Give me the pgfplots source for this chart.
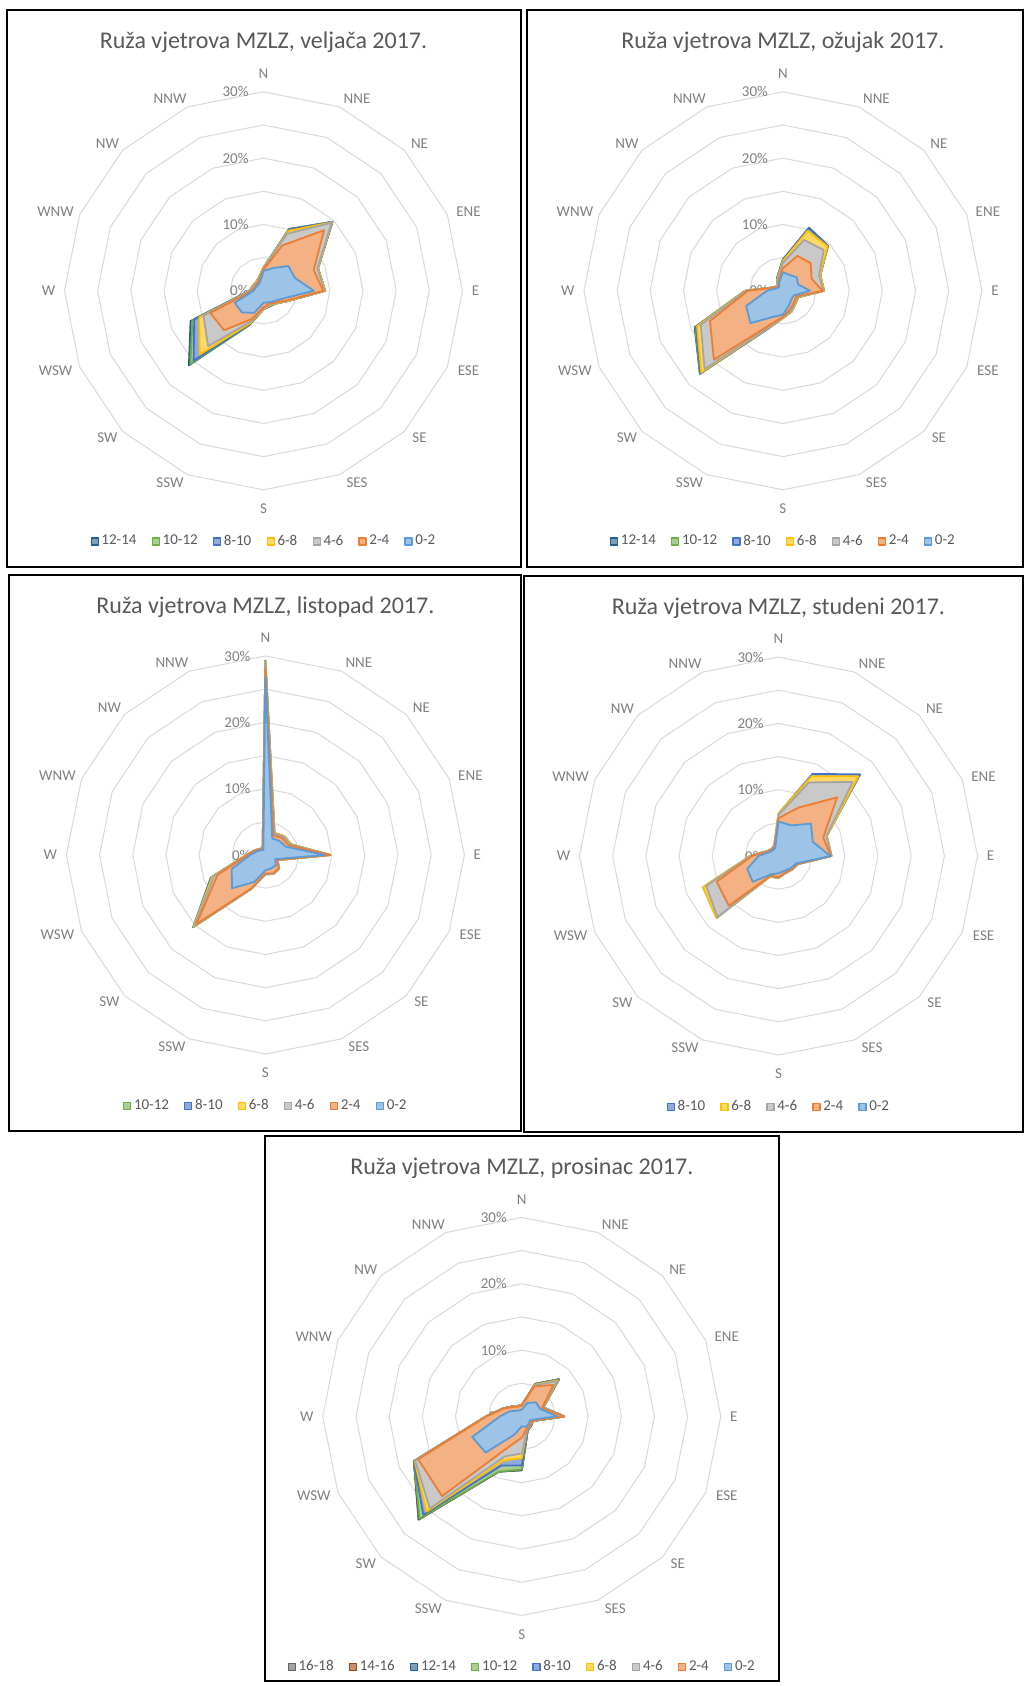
\documentclass[border=0pt]{standalone}
\usepackage{fontspec}
\setmainfont{Carlito}
\usepackage{pgfplots}
\usepackage{pgfplotstable}
\pgfplotsset{compat=1.18}
\usepgfplotslibrary{polar}

% Office palette: line colours, fills are lighter tints
\definecolor{cA}{HTML}{5B9BD5}% 0-2
\definecolor{cB}{HTML}{ED7D31}% 2-4
\definecolor{cC}{HTML}{A5A5A5}% 4-6
\definecolor{cD}{HTML}{FFC000}% 6-8
\definecolor{cE}{HTML}{4472C4}% 8-10
\definecolor{cF}{HTML}{70AD47}% 10-12
\definecolor{cG}{HTML}{255E91}% 12-14
\definecolor{cH}{HTML}{9E480E}% 14-16
\definecolor{cI}{HTML}{636363}% 16-18
\definecolor{txtdark}{HTML}{595959}
\definecolor{txtlight}{HTML}{808080}
\definecolor{gridc}{HTML}{D9D9D9}

% polygonal rings of the radial grid (every 5 %)
\pgfplotstableread{
a      g5 g10 g15 g20 g25 g30
90     5  10  15  20  25  30
67.5   5  10  15  20  25  30
45     5  10  15  20  25  30
22.5   5  10  15  20  25  30
0      5  10  15  20  25  30
-22.5  5  10  15  20  25  30
-45    5  10  15  20  25  30
-67.5  5  10  15  20  25  30
-90    5  10  15  20  25  30
-112.5 5  10  15  20  25  30
-135   5  10  15  20  25  30
-157.5 5  10  15  20  25  30
-180   5  10  15  20  25  30
-202.5 5  10  15  20  25  30
-225   5  10  15  20  25  30
-247.5 5  10  15  20  25  30
-270   5  10  15  20  25  30
}\gridtab

% cumulative frequency (%) per direction, N first, clockwise; N repeated to close
% veljaca 2017
\pgfplotstableread{
a      s0   s2   s4   s6   s8   s10  s12
90     3.0  3.2  3.4  3.5  3.5  3.5  3.5
67.5   3.7  7.4  9.3  9.8  10.0 10.0 10.1
45     5.3  12.9 14.5 14.6 14.7 14.7 14.7
22.5   5.1  8.2  8.8  8.9  8.9  8.9  8.9
0      7.6  9.0  9.2  9.3  9.3  9.3  9.3
-22.5  3.1  3.8  3.9  4.0  4.0  4.0  4.0
-45    2.2  2.5  2.6  2.7  2.7  2.7  2.7
-67.5  1.9  2.1  2.3  2.4  2.5  2.5  2.5
-90    1.8  2.5  2.7  2.8  2.8  2.8  2.8
-112.5 3.6  4.6  5.0  5.3  5.5  5.6  5.6
-135   4.6  8.4  11.8 13.6 14.9 15.6 15.9
-157.5 4.7  8.7  9.8  10.5 11.3 11.6 11.9
-180   1.5  1.7  1.9  2.0  2.1  2.1  2.1
-202.5 1.3  1.5  1.7  1.8  1.8  1.8  1.8
-225   1.2  1.4  1.6  1.7  1.7  1.7  1.7
-247.5 1.4  1.7  1.9  2.0  2.0  2.0  2.0
-270   3.0  3.2  3.4  3.5  3.5  3.5  3.5
}\tabFeb

% ozujak 2017
\pgfplotstableread{
a      s0   s2   s4   s6   s8   s10  s12
90     2.8  3.4  4.2  4.5  4.7  4.7  4.7
67.5   2.6  5.7  8.3  9.8  10.2 10.2 10.3
45     2.9  5.9  8.7  9.5  9.6  9.6  9.6
22.5   2.5  4.7  5.9  6.1  6.1  6.1  6.1
0      4.1  6.0  6.1  6.2  6.2  6.2  6.2
-22.5  1.8  2.2  2.4  2.5  2.5  2.5  2.5
-45    1.8  2.4  2.6  2.7  2.7  2.7  2.7
-67.5  2.4  3.0  3.3  3.4  3.4  3.4  3.4
-90    3.6  3.9  4.0  4.1  4.1  4.1  4.1
-112.5 4.3  5.7  6.1  6.2  6.3  6.3  6.3
-135   6.9  14.7 16.7 17.4 17.6 17.7 17.7
-157.5 6.0  11.9 13.4 14.0 14.2 14.3 14.4
-180   2.4  5.3  5.6  5.7  5.7  5.7  5.7
-202.5 1.0  1.3  1.4  1.4  1.4  1.4  1.4
-225   0.8  1.0  1.1  1.1  1.1  1.1  1.1
-247.5 1.4  1.7  2.0  2.1  2.2  2.2  2.2
-270   2.8  3.4  4.2  4.5  4.7  4.7  4.7
}\tabMar

% listopad 2017
\pgfplotstableread{
a      s0   s2   s4   s6   s8   s10
90     26.9 28.3 29.0 29.2 29.3 29.4
67.5   2.7  3.2  3.5  3.6  3.6  3.6
45     3.0  3.6  3.9  4.0  4.0  4.0
22.5   3.3  3.8  4.1  4.2  4.2  4.2
0      9.0  9.8  9.8  9.8  9.8  9.8
-22.5  1.6  1.9  2.0  2.0  2.0  2.0
-45    2.2  2.8  2.9  2.9  2.9  2.9
-67.5  2.2  3.0  3.1  3.1  3.1  3.1
-90    2.3  2.8  2.9  2.9  2.9  2.9
-112.5 4.4  5.4  5.5  5.5  5.5  5.5
-135   7.1  14.7 15.1 15.3 15.4 15.4
-157.5 5.5  7.8  8.4  8.7  8.9  8.9
-180   2.3  2.7  2.8  2.9  2.9  2.9
-202.5 1.4  1.7  1.8  1.8  1.8  1.8
-225   1.0  1.2  1.3  1.3  1.3  1.3
-247.5 0.8  1.0  1.1  1.1  1.1  1.1
-270   26.9 28.3 29.0 29.2 29.3 29.4
}\tabOct

% studeni 2017
\pgfplotstableread{
a      s0   s2   s4   s6   s8
90     5.2  5.7  6.2  6.4  6.4
67.5   5.0  7.9  12.0 13.0 13.4
45     6.9  12.5 15.8 17.0 17.4
22.5   5.6  7.3  7.8  7.9  7.9
0      7.8  7.9  8.0  8.0  8.0
-22.5  2.9  3.1  3.2  3.2  3.2
-45    2.6  2.8  2.9  2.9  2.9
-67.5  2.4  2.7  2.8  2.8  2.8
-90    2.6  3.2  3.3  3.3  3.3
-112.5 3.0  3.2  3.3  3.4  3.4
-135   5.5  10.6 13.0 13.2 13.2
-157.5 5.1  10.1 11.8 12.3 12.3
-180   3.0  4.0  4.2  4.3  4.3
-202.5 1.5  1.8  1.9  1.9  1.9
-225   1.2  1.4  1.5  1.5  1.5
-247.5 1.3  1.6  1.7  1.7  1.7
-270   5.2  5.7  6.2  6.4  6.4
}\tabNov

% prosinac 2017
\pgfplotstableread{
a      s0   s2   s4   s6   s8   s10  s12  s14  s16
90     1.0  1.6  1.7  1.7  1.7  1.7  1.7  1.7  1.7
67.5   2.2  4.9  5.1  5.2  5.3  5.3  5.3  5.3  5.3
45     3.0  6.7  7.5  7.7  7.8  7.9  7.9  7.9  7.9
22.5   3.0  3.3  3.5  3.5  3.5  3.5  3.5  3.5  3.5
0      5.3  6.3  6.4  6.4  6.4  6.4  6.4  6.4  6.4
-22.5  1.4  1.7  1.8  1.8  1.8  1.8  1.8  1.8  1.8
-45    1.5  1.8  1.9  1.9  2.0  2.0  2.0  2.0  2.0
-67.5  1.7  2.0  2.1  2.1  2.2  2.3  2.3  2.3  2.3
-90    1.5  3.2  5.6  6.3  7.4  8.0  8.1  8.1  8.1
-112.5 3.0  4.9  6.5  7.2  8.0  9.0  9.0  9.0  9.0
-135   7.7  17.0 19.6 20.3 21.0 21.8 21.9 22.0 22.0
-157.5 8.1  16.9 17.4 17.5 17.6 17.6 17.6 17.6 17.6
-180   3.3  5.3  5.4  5.4  5.4  5.4  5.4  5.4  5.4
-202.5 2.0  3.0  3.1  3.1  3.1  3.1  3.1  3.1  3.1
-225   1.2  2.0  2.1  2.1  2.1  2.1  2.1  2.1  2.1
-247.5 1.0  1.6  1.7  1.7  1.7  1.7  1.7  1.7  1.7
-270   1.0  1.6  1.7  1.7  1.7  1.7  1.7  1.7  1.7
}\tabDec

\pgfplotsset{
  rose/.style={
    hide axis, scale only axis, width=199pt, height=199pt,
    xmin=0, xmax=360, ymin=0, ymax=30, clip=false, anchor=center,
    title style={at={(0.5,1.130)}, anchor=center, yshift=-15.7pt,
      font=\fontsize{12}{14}\selectfont, text=txtdark},
    legend style={at={(0.5,-0.130)}, anchor=center, draw=none, fill=none,
      legend columns=-1, font=\fontsize{7.5}{9}\selectfont, text=txtdark,
      nodes={inner sep=0.6pt},
      /tikz/every even column/.append style={column sep=7pt},
      /tikz/every odd column/.append style={column sep=0.8pt}},
    legend image code/.code={\draw[##1, line width=0.6pt] (0pt,-1.75pt) rectangle (3.5pt,1.75pt);},
  },
  ring/.style={draw=gridc, line width=0.5pt, forget plot, no marks, fill=none},
  ser/.style={draw=#1, fill=#1!60!white, line width=0.9pt, line join=round, no marks},
}

\newcommand\rosegrid{%
  \addplot[ring] table[x=a,y=g5]{\gridtab};
  \addplot[ring] table[x=a,y=g10]{\gridtab};
  \addplot[ring] table[x=a,y=g15]{\gridtab};
  \addplot[ring] table[x=a,y=g20]{\gridtab};
  \addplot[ring] table[x=a,y=g25]{\gridtab};
  \addplot[ring] table[x=a,y=g30]{\gridtab};
  \node[anchor=east, xshift=-7.3pt, text=txtlight, font=\fontsize{7.5}{9}\selectfont, inner sep=0pt] at (axis cs:90,0) {0\%};
  \node[anchor=east, xshift=-7.3pt, text=txtlight, font=\fontsize{7.5}{9}\selectfont, inner sep=0pt] at (axis cs:90,10) {10\%};
  \node[anchor=east, xshift=-7.3pt, text=txtlight, font=\fontsize{7.5}{9}\selectfont, inner sep=0pt] at (axis cs:90,20) {20\%};
  \node[anchor=east, xshift=-7.3pt, text=txtlight, font=\fontsize{7.5}{9}\selectfont, inner sep=0pt] at (axis cs:90,30) {30\%};
}

% compass labels around a centre given in pixels (0.5pt each, y downwards)
\newcommand\compass[2]{%
  \foreach \t/\dx/\dy in {N/0/-217, NNE/93.5/-192, NE/156/-147, ENE/205/-79.5,
      E/212/0, ESE/205/79.5, SE/156/147, SES/93.5/192, S/0/218, SSW/-93.5/192,
      SW/-156/147, WSW/-208/79.5, W/-215/0, WNW/-208/-79.5, NW/-156/-147, NNW/-93.5/-192}
    \node[text=txtlight, font=\fontsize{7.5}{9}\selectfont, inner sep=0pt]
      at ({(#1+\dx)*0.5pt},{-(#2+\dy)*0.5pt}) {\t};
}
\newcommand\frameat[4]{%
  \draw[black, line width=1pt] ({#1*0.5pt},{-#2*0.5pt}) rectangle ({#3*0.5pt},{-#4*0.5pt});
}

\begin{document}
\begin{tikzpicture}
\useasboundingbox (0,0) rectangle (512pt,-843pt);
\fill[white] (0,0) rectangle (512pt,-843pt);

\frameat{6.5}{10.5}{520.6}{567}
\frameat{526.8}{10.5}{1022.5}{567}
\frameat{8.6}{575}{520.6}{1131}
\frameat{523.8}{576}{1022.5}{1132}
\frameat{265}{1136}{778.7}{1681}

% ---- veljaca
\begin{polaraxis}[rose, at={(131.75pt,-145.4pt)}, title={Ruža vjetrova MZLZ, veljača 2017.}]
\rosegrid
\addplot[ser=cG] table[x=a,y=s12]{\tabFeb}; \addlegendentry{12-14}
\addplot[ser=cF] table[x=a,y=s10]{\tabFeb}; \addlegendentry{10-12}
\addplot[ser=cE] table[x=a,y=s8]{\tabFeb};  \addlegendentry{8-10}
\addplot[ser=cD] table[x=a,y=s6]{\tabFeb};  \addlegendentry{6-8}
\addplot[ser=cC] table[x=a,y=s4]{\tabFeb};  \addlegendentry{4-6}
\addplot[ser=cB] table[x=a,y=s2]{\tabFeb};  \addlegendentry{2-4}
\addplot[ser=cA] table[x=a,y=s0]{\tabFeb};  \addlegendentry{0-2}
\end{polaraxis}
\compass{263.5}{290.8}

% ---- ozujak
\begin{polaraxis}[rose, at={(391.45pt,-145.4pt)}, title={Ruža vjetrova MZLZ, ožujak 2017.}]
\rosegrid
\addplot[ser=cG] table[x=a,y=s12]{\tabMar}; \addlegendentry{12-14}
\addplot[ser=cF] table[x=a,y=s10]{\tabMar}; \addlegendentry{10-12}
\addplot[ser=cE] table[x=a,y=s8]{\tabMar};  \addlegendentry{8-10}
\addplot[ser=cD] table[x=a,y=s6]{\tabMar};  \addlegendentry{6-8}
\addplot[ser=cC] table[x=a,y=s4]{\tabMar};  \addlegendentry{4-6}
\addplot[ser=cB] table[x=a,y=s2]{\tabMar};  \addlegendentry{2-4}
\addplot[ser=cA] table[x=a,y=s0]{\tabMar};  \addlegendentry{0-2}
\end{polaraxis}
\compass{782.9}{290.8}

% ---- listopad
\begin{polaraxis}[rose, at={(132.7pt,-427.5pt)}, title={Ruža vjetrova MZLZ, listopad 2017.}]
\rosegrid
\addplot[ser=cF] table[x=a,y=s10]{\tabOct}; \addlegendentry{10-12}
\addplot[ser=cE] table[x=a,y=s8]{\tabOct};  \addlegendentry{8-10}
\addplot[ser=cD] table[x=a,y=s6]{\tabOct};  \addlegendentry{6-8}
\addplot[ser=cC] table[x=a,y=s4]{\tabOct};  \addlegendentry{4-6}
\addplot[ser=cB] table[x=a,y=s2]{\tabOct};  \addlegendentry{2-4}
\addplot[ser=cA] table[x=a,y=s0]{\tabOct};  \addlegendentry{0-2}
\end{polaraxis}
\compass{265.4}{855}

% ---- studeni
\begin{polaraxis}[rose, at={(389.25pt,-428pt)}, title={Ruža vjetrova MZLZ, studeni 2017.}]
\rosegrid
\addplot[ser=cE] table[x=a,y=s8]{\tabNov};  \addlegendentry{8-10}
\addplot[ser=cD] table[x=a,y=s6]{\tabNov};  \addlegendentry{6-8}
\addplot[ser=cC] table[x=a,y=s4]{\tabNov};  \addlegendentry{4-6}
\addplot[ser=cB] table[x=a,y=s2]{\tabNov};  \addlegendentry{2-4}
\addplot[ser=cA] table[x=a,y=s0]{\tabNov};  \addlegendentry{0-2}
\end{polaraxis}
\compass{778.5}{856}

% ---- prosinac
\begin{polaraxis}[rose, at={(260.9pt,-708.2pt)}, title={Ruža vjetrova MZLZ, prosinac 2017.}]
\rosegrid
\addplot[ser=cI] table[x=a,y=s16]{\tabDec}; \addlegendentry{16-18}
\addplot[ser=cH] table[x=a,y=s14]{\tabDec}; \addlegendentry{14-16}
\addplot[ser=cG] table[x=a,y=s12]{\tabDec}; \addlegendentry{12-14}
\addplot[ser=cF] table[x=a,y=s10]{\tabDec}; \addlegendentry{10-12}
\addplot[ser=cE] table[x=a,y=s8]{\tabDec};  \addlegendentry{8-10}
\addplot[ser=cD] table[x=a,y=s6]{\tabDec};  \addlegendentry{6-8}
\addplot[ser=cC] table[x=a,y=s4]{\tabDec};  \addlegendentry{4-6}
\addplot[ser=cB] table[x=a,y=s2]{\tabDec};  \addlegendentry{2-4}
\addplot[ser=cA] table[x=a,y=s0]{\tabDec};  \addlegendentry{0-2}
\end{polaraxis}
\compass{521.8}{1416.5}
\end{tikzpicture}
\end{document}
